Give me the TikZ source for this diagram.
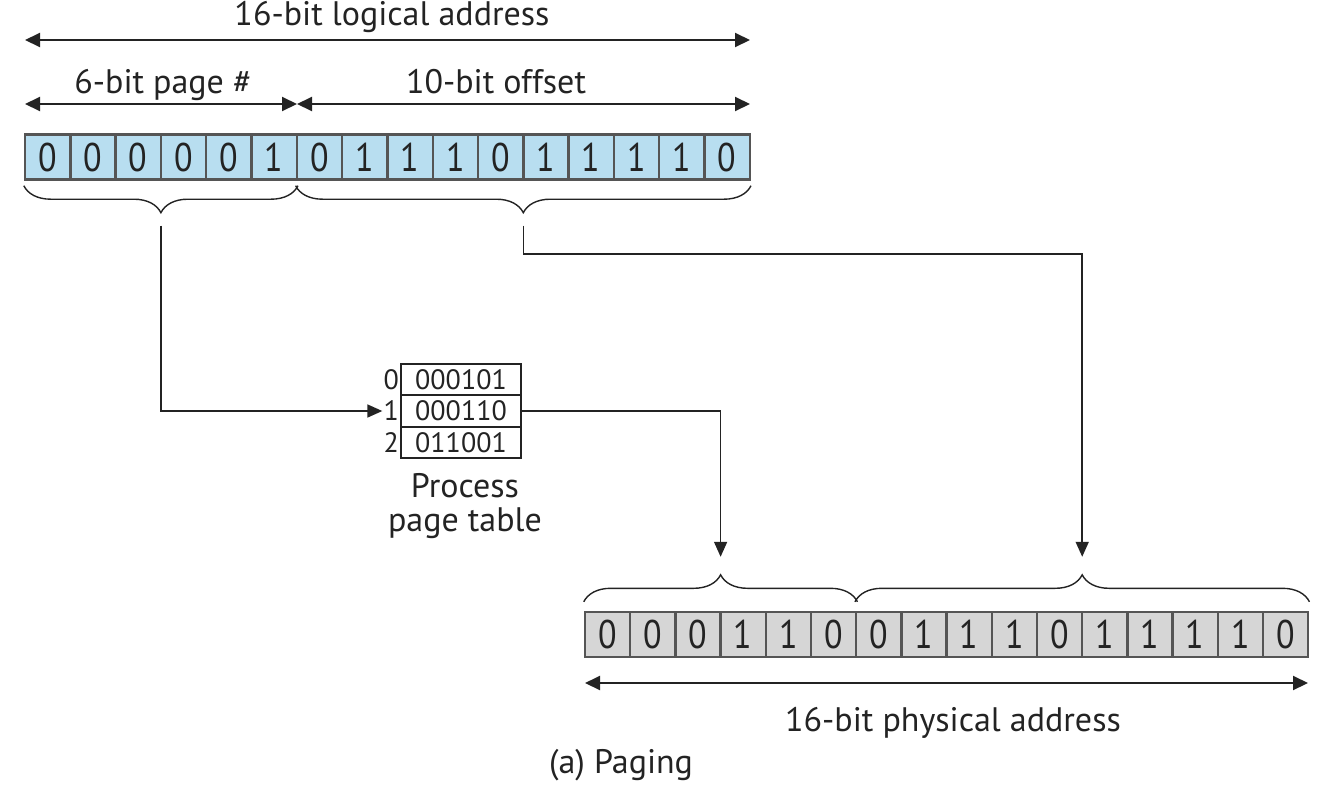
\documentclass[tikz,border=0pt]{standalone}
\usepackage{fontspec}
\setmainfont{PT Sans}
\newfontfamily\bitFont{PT Sans}[FakeStretch=0.85]
\usetikzlibrary{positioning,arrows.meta,decorations.pathreplacing,calc}
\definecolor{logicalColor}{RGB}{184,222,240}
\definecolor{physicalColor}{RGB}{214,214,214}
\definecolor{cellLine}{RGB}{85,85,85}
\definecolor{inkColor}{RGB}{35,35,35}
\tikzstyle{bitCell} = [draw=cellLine, line width=2.4pt, minimum width=45.3pt, minimum height=45pt, inner sep=0pt, text=inkColor, font=\bitFont\fontsize{40}{40}\selectfont]
\tikzstyle{logicalBit} = [bitCell, fill=logicalColor]
\tikzstyle{physicalBit} = [bitCell, fill=physicalColor]
\tikzstyle{spanArrow} = [{Triangle[length=15pt,width=14pt]}-{Triangle[length=15pt,width=14pt]}, line width=2pt, color=inkColor]
\tikzstyle{connector} = [-{Triangle[length=15pt,width=13pt]}, line width=1.6pt, color=inkColor]
\tikzstyle{braceStyle} = [decorate, decoration={brace, amplitude=27pt}, line width=1.4pt, color=inkColor]
\tikzstyle{labelText} = [font=\fontsize{34}{34}\selectfont, text=inkColor, anchor=base, inner sep=0pt]
\tikzstyle{tableRow} = [draw=inkColor, line width=1.6pt, minimum width=120pt, minimum height=31.5pt, inner sep=0pt, outer sep=0pt, text=inkColor, font=\fontsize{28}{28}\selectfont]
\tikzstyle{tableIndex} = [font=\fontsize{28}{28}\selectfont, text=inkColor, inner sep=1pt]
\newcommand{\cellWidth}{45.3}

\begin{document}
\begin{tikzpicture}[x=1pt, y=-1pt]
  \useasboundingbox (0,0) rectangle (1324,798);

  % logical address
  \foreach \bit [count=\i] in {0,0,0,0,0,1,0,1,1,1,0,1,1,1,1,0} {
    \node [logicalBit] (l\i) at ({25 + (\i - 0.5) * \cellWidth}, 157) {\bit};
  }
  \coordinate (logStart) at (25,40);
  \coordinate (logEnd) at (750,40);
  \coordinate (pageStart) at (25,104);
  \coordinate (pageEnd) at (297,104);
  \coordinate (offStart) at (297,104);
  \coordinate (offEnd) at (750,104);
  \draw [spanArrow] (logStart) -- (logEnd);
  \draw [spanArrow] (pageStart) -- (pageEnd);
  \draw [spanArrow] (offStart) -- (offEnd);
  \node [labelText] (logLabel) at (392,25) {16-bit logical address};
  \node [labelText] (pageLabel) at (163,93) {6-bit page \#};
  \node [labelText] (offLabel) at (496,93) {10-bit offset};

  \draw [braceStyle, decoration={mirror, raise=5pt}] (l1.south west) -- (l6.south east);
  \draw [braceStyle, decoration={mirror, raise=5pt}] (l7.south west) -- (l16.south east);
  \coordinate (pageTip) at ($(l1.south west)!0.5!(l6.south east) + (0,45)$);
  \coordinate (offsetTip) at ($(l7.south west)!0.5!(l16.south east) + (0,45)$);

  % page table
  \node [tableRow] (row0) at (461,379.5) {000101};
  \node [tableRow, below=0pt of row0] (row1) {000110};
  \node [tableRow, below=0pt of row1] (row2) {011001};
  \node [tableIndex, left=1pt of row0] (idx0) {0};
  \node [tableIndex, left=1pt of row1] (idx1) {1};
  \node [tableIndex, left=1pt of row2] (idx2) {2};
  \node [labelText, anchor=center, align=center] (tableCaption) at (465,506) {Process\\page table};

  % physical address
  \foreach \bit [count=\i] in {0,0,0,1,1,0,0,1,1,1,0,1,1,1,1,0} {
    \node [physicalBit] (p\i) at ({585 + (\i - 0.5) * 45.2}, 634.5) {\bit};
  }
  \draw [braceStyle, decoration={raise=9pt}] (p1.north west) -- (p6.north east);
  \draw [braceStyle, decoration={raise=9pt}] (p7.north west) -- (p16.north east);
  \coordinate (frameTip) at ($(p1.north west)!0.5!(p6.north east) + (0,-54)$);
  \coordinate (physOffsetTip) at ($(p7.north west)!0.5!(p16.north east) + (0,-54)$);
  \coordinate (physStart) at (585,683);
  \coordinate (physEnd) at (1308,683);
  \draw [spanArrow] (physStart) -- (physEnd);
  \node [labelText] (physLabel) at (953,731) {16-bit physical address};
  \node [labelText] (caption) at (621,773) {(a) Paging};

  % connectors
  \draw [connector] (pageTip) |- (idx1);
  \draw [connector] (row1.east) -| (frameTip);
  \draw [connector] (offsetTip) -- ++(0,28) -| (physOffsetTip);
\end{tikzpicture}
\end{document}
